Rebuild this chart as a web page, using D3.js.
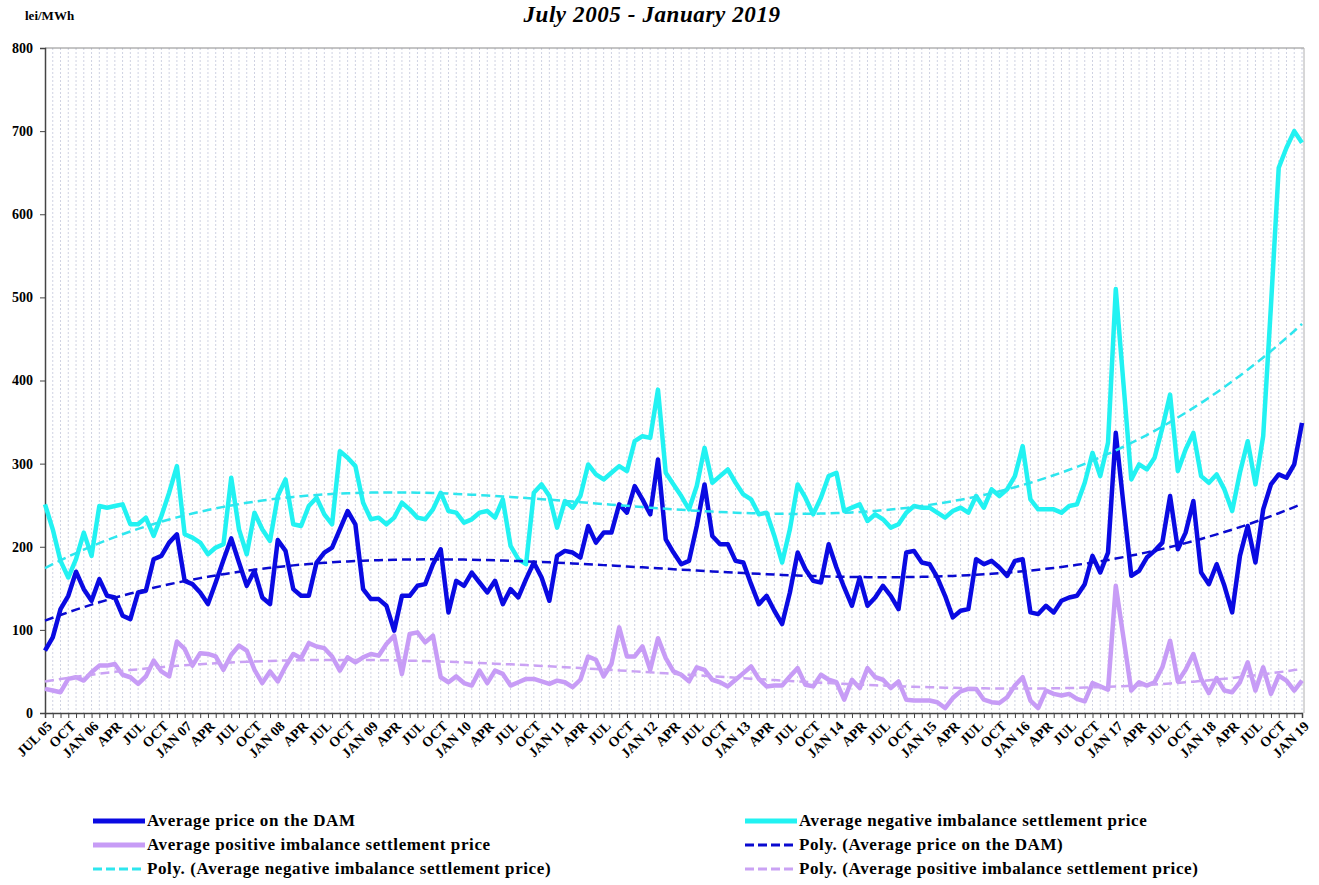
<!DOCTYPE html>
<html>
<head>
<meta charset="utf-8">
<script src="https://cdn.jsdelivr.net/npm/d3@7"></script>
<style>
  body { margin: 0; background: #fff; }
  svg text { font-family: "Liberation Serif", "Times New Roman", serif; font-weight: bold; fill: #000; }
</style>
</head>
<body>
<svg id="chart" width="1319" height="885"></svg>
<script>
// monthly values, July 2005 .. January 2019 (one row per calendar year)
const damPrice = [
  75, 91, 125, 141, 170, 149,
  135, 161, 141, 139, 117, 113, 145, 147, 185, 189, 205, 215,
  159, 155, 145, 131, 157, 184, 210, 181, 153, 171, 139, 131,
  208, 195, 149, 141, 141, 181, 193, 199, 221, 243, 227, 149,
  137, 137, 129, 99, 141, 141, 153, 155, 179, 197, 121, 159,
  153, 169, 157, 145, 159, 131, 149, 139, 161, 181, 163, 135,
  189, 195, 193, 187, 225, 205, 217, 217, 251, 241, 273, 257,
  239, 305, 209, 193, 179, 183, 225, 275, 213, 203, 203, 183,
  181, 155, 131, 141, 123, 107, 145, 193, 173, 159, 157, 203,
  175, 151, 129, 163, 129, 139, 153, 141, 125, 193, 195, 181,
  179, 163, 141, 115, 123, 125, 185, 179, 183, 175, 165, 183,
  185, 121, 119, 129, 121, 135, 139, 141, 155, 189, 169, 193,
  337, 250, 165, 171, 187, 195, 205, 261, 197, 217, 255, 169,
  155, 179, 153, 121, 189, 225, 181, 245, 275, 287, 283, 299,
  349
];

const negPrice = [
  251, 221, 183, 163, 185, 217,
  189, 249, 247, 249, 251, 227, 227, 235, 213, 237, 265, 297,
  215, 211, 205, 191, 199, 203, 283, 221, 191, 241, 221, 207,
  261, 281, 227, 225, 249, 259, 239, 227, 315, 307, 297, 253,
  233, 235, 227, 235, 253, 245, 235, 233, 245, 265, 243, 241,
  229, 233, 241, 243, 235, 257, 201, 185, 179, 265, 275, 261,
  223, 255, 247, 261, 299, 287, 281, 289, 297, 291, 327, 333,
  331, 389, 289, 275, 261, 245, 273, 319, 277, 285, 293, 277,
  263, 257, 239, 241, 213, 181, 221, 275, 259, 239, 259, 285,
  289, 243, 247, 251, 231, 239, 233, 223, 227, 241, 249, 247,
  247, 241, 235, 243, 247, 241, 261, 247, 269, 261, 269, 285,
  321, 257, 245, 245, 245, 241, 249, 251, 277, 313, 285, 325,
  510, 395, 281, 299, 293, 307, 343, 383, 291, 317, 337, 285,
  277, 287, 269, 243, 289, 327, 275, 333, 490, 656, 680, 700,
  686
];

const posPrice = [
  29, 27, 25, 41, 43, 39,
  49, 57, 57, 59, 46, 43, 35, 44, 63, 50, 44, 86,
  77, 57, 72, 71, 68, 52, 70, 81, 75, 52, 36, 50,
  38, 56, 71, 66, 84, 80, 78, 68, 51, 67, 61, 67,
  71, 69, 83, 93, 47, 95, 97, 85, 93, 43, 37, 44,
  36, 33, 51, 36, 51, 47, 33, 37, 41, 41, 38, 35,
  39, 37, 31, 40, 68, 64, 44, 59, 103, 68, 68, 80,
  52, 90, 66, 50, 46, 38, 55, 52, 40, 37, 32, 40,
  48, 56, 41, 32, 33, 33, 44, 54, 34, 32, 46, 40,
  37, 16, 40, 30, 54, 43, 40, 30, 38, 16, 15, 15,
  15, 13, 6, 18, 26, 29, 29, 16, 13, 12, 19, 33,
  43, 15, 6, 27, 23, 21, 23, 17, 14, 36, 32, 28,
  153, 90, 27, 37, 33, 37, 55, 87, 38, 52, 71, 41,
  24, 42, 27, 25, 37, 61, 27, 55, 23, 45, 39, 27,
  39
];

const monthNames = ['JAN', 'FEB', 'MAR', 'APR', 'MAY', 'JUN', 'JUL', 'AUG', 'SEP', 'OCT', 'NOV', 'DEC'];
const firstMonth = 6;   // July
const firstYear = 2005;
const yTicks = [0, 100, 200, 300, 400, 500, 600, 700, 800];
const trendOrder = 3;

const colDam = '#0a0ae2';
const colNeg = '#22f2f2';
const colPos = '#c79cf6';

const svg = d3.select('#chart');

const x = d3.scaleLinear().domain([0, damPrice.length - 1]).range([45, 1302]);
const y = d3.scaleLinear().domain([0, 800]).range([713, 48]);

// least squares polynomial, like the chart's "Poly." trendlines
function polyTrend(values, order) {
  const n = values.length;
  const mid = (n - 1) / 2;
  const ts = values.map((v, i) => (i - mid) / mid);
  const m = order + 1;
  const A = [];
  for (let r = 0; r < m; r++) {
    A.push(new Array(m + 1).fill(0));
    for (let c = 0; c < m; c++) {
      A[r][c] = d3.sum(ts, t => Math.pow(t, r + c));
    }
    A[r][m] = d3.sum(values, (v, i) => v * Math.pow(ts[i], r));
  }
  for (let col = 0; col < m; col++) {
    let piv = col;
    for (let r = col + 1; r < m; r++) if (Math.abs(A[r][col]) > Math.abs(A[piv][col])) piv = r;
    [A[col], A[piv]] = [A[piv], A[col]];
    for (let r = 0; r < m; r++) {
      if (r === col) continue;
      const f = A[r][col] / A[col][col];
      for (let c = col; c <= m; c++) A[r][c] -= f * A[col][c];
    }
  }
  const coef = A.map((row, r) => row[m] / row[r]);
  return ts.map(t => d3.sum(coef, (c, k) => c * Math.pow(t, k)));
}

// title and unit
svg.append('text')
  .attr('x', 652).attr('y', 22)
  .attr('text-anchor', 'middle')
  .style('font-size', '23px').style('font-style', 'italic')
  .style('letter-spacing', '0.6px')
  .text('July 2005 - January 2019');

svg.append('text')
  .attr('x', 25).attr('y', 20)
  .style('font-size', '13px')
  .text('lei/MWh');

// vertical month gridlines
svg.append('g')
  .selectAll('line')
  .data(d3.range(1, damPrice.length))
  .join('line')
    .attr('x1', i => x(i)).attr('x2', i => x(i))
    .attr('y1', y(800)).attr('y2', y(0))
    .attr('stroke', '#cfd2e2')
    .attr('stroke-width', 1)
    .attr('stroke-dasharray', '2,2');

// plot frame (top and right)
svg.append('line')
  .attr('x1', x(0)).attr('x2', 1304).attr('y1', y(800)).attr('y2', y(800))
  .attr('stroke', '#8a8a8a');
svg.append('line')
  .attr('x1', 1304).attr('x2', 1304).attr('y1', y(800)).attr('y2', y(0))
  .attr('stroke', '#b0b0b0');

// y axis
const yAxis = svg.append('g')
  .attr('transform', `translate(${x(0)},0)`)
  .call(d3.axisLeft(y).tickValues(yTicks).tickSize(5).tickPadding(7).tickFormat(d3.format('d')));
yAxis.select('.domain').attr('stroke', '#444').attr('stroke-width', 1.5);
yAxis.selectAll('.tick line').attr('stroke', '#444');
yAxis.selectAll('text').style('font-size', '14px').style('font-family', '"Liberation Serif", serif');

// x axis with a tick every month
const xAxis = svg.append('g')
  .attr('transform', `translate(0,${y(0)})`)
  .call(d3.axisBottom(x).tickValues(d3.range(damPrice.length)).tickSize(5).tickFormat(''));
xAxis.select('.domain').attr('stroke', '#444').attr('stroke-width', 1.5);
xAxis.selectAll('.tick line').attr('stroke', '#444');

const labelIdx = d3.range(0, damPrice.length, 3);
svg.append('g')
  .selectAll('text')
  .data(labelIdx)
  .join('text')
    .attr('transform', i => `translate(${x(i) + 8},${y(0) + 14}) rotate(-45)`)
    .attr('text-anchor', 'end')
    .style('font-size', '14px')
    .text(i => {
      const m = (firstMonth + i) % 12;
      const yr = firstYear + Math.floor((firstMonth + i) / 12);
      return (m === 0 || i === 0) ? monthNames[m] + ' ' + String(yr).slice(2) : monthNames[m];
    });

// series
const line = d3.line().x((d, i) => x(i)).y(d => y(d));

const series = [
  { values: damPrice, color: colDam },
  { values: negPrice, color: colNeg },
  { values: posPrice, color: colPos }
];

svg.append('g')
  .selectAll('path')
  .data(series)
  .join('path')
    .attr('d', d => line(d.values))
    .attr('fill', 'none')
    .attr('stroke', d => d.color)
    .attr('stroke-width', 4.5)
    .attr('stroke-linejoin', 'round');

const trends = [
  { values: polyTrend(damPrice, trendOrder), color: '#0a0ad0' },
  { values: polyTrend(negPrice, trendOrder), color: '#2ee6ee' },
  { values: polyTrend(posPrice, trendOrder), color: '#caa2f4' }
];

svg.append('g')
  .selectAll('path')
  .data(trends)
  .join('path')
    .attr('d', d => line(d.values))
    .attr('fill', 'none')
    .attr('stroke', d => d.color)
    .attr('stroke-width', 2.5)
    .attr('stroke-dasharray', '9,5');

// legend
const legendItems = [
  { label: 'Average price on the DAM', color: colDam, dash: null, col: 0, row: 0 },
  { label: 'Average negative imbalance settlement price', color: colNeg, dash: null, col: 1, row: 0 },
  { label: 'Average positive imbalance settlement price', color: colPos, dash: null, col: 0, row: 1 },
  { label: 'Poly. (Average price on the DAM)', color: '#0a0ad0', dash: '9,4', col: 1, row: 1 },
  { label: 'Poly. (Average negative imbalance settlement price)', color: '#2ee6ee', dash: '9,4', col: 0, row: 2 },
  { label: 'Poly. (Average positive imbalance settlement price)', color: '#caa2f4', dash: '9,4', col: 1, row: 2 }
];
const legendX = [93, 745];
const legendY = 821;
const legendRow = 24;

const legend = svg.append('g')
  .selectAll('g')
  .data(legendItems)
  .join('g')
    .attr('transform', d => `translate(${legendX[d.col]},${legendY + d.row * legendRow})`);

legend.append('line')
  .attr('x1', 0).attr('x2', 52)
  .attr('stroke', d => d.color)
  .attr('stroke-width', d => d.dash ? 3 : 5)
  .attr('stroke-dasharray', d => d.dash);

legend.append('text')
  .attr('x', 54).attr('y', 5)
  .style('font-size', '17px')
  .style('letter-spacing', '0.6px')
  .text(d => d.label);
</script>
</body>
</html>
